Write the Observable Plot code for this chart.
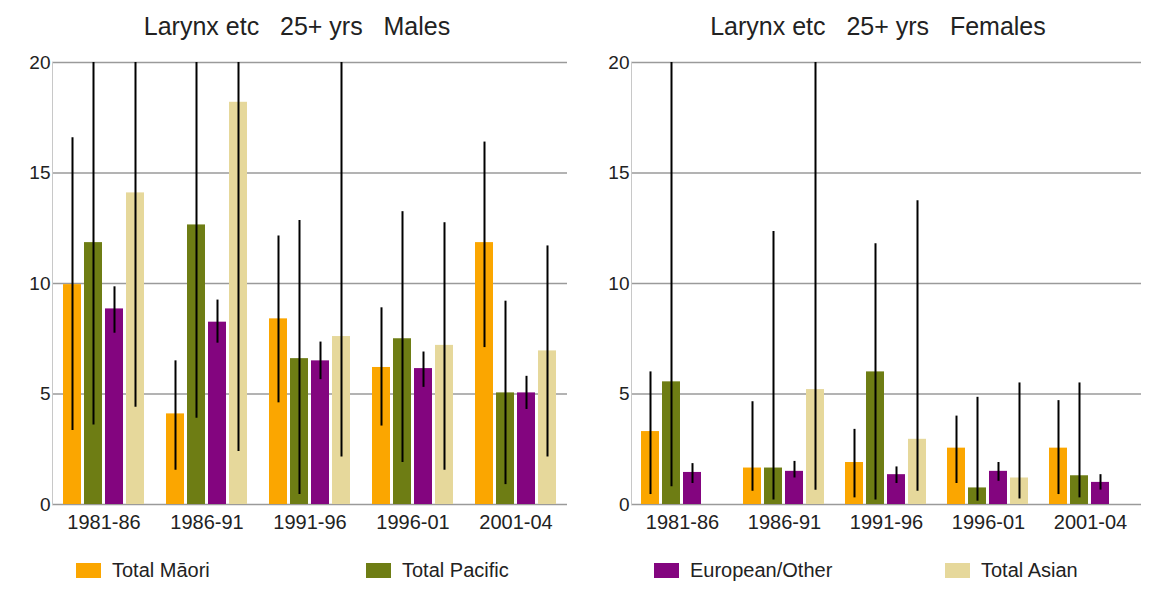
<!DOCTYPE html>
<html>
<head>
<meta charset="utf-8">
<script src="https://cdn.jsdelivr.net/npm/d3@7"></script>
<script src="https://cdn.jsdelivr.net/npm/@observablehq/plot@0.6"></script>
<style>
  body { margin: 0; background: #fff; font-family: "Liberation Sans", Arial, sans-serif; color: #222; }
  #wrap { position: relative; width: 1153px; height: 589px; overflow: hidden; background: #fff; }
  .title { position: absolute; top: 11px; width: 440px; text-align: center; font-size: 25px; line-height: 30px; white-space: pre; }
  .panel { position: absolute; top: 40px; }
  .item { position: absolute; top: 560px; height: 20px; display: flex; align-items: center; font-size: 20px; white-space: nowrap; }
  .sw { width: 25px; height: 15px; margin-right: 11px; }
</style>
</head>
<body>
<div id="wrap">
  <div class="title" style="left:77px">Larynx etc   25+ yrs   Males</div>
  <div class="title" style="left:658px">Larynx etc   25+ yrs   Females</div>
  <div class="panel" id="left" style="left:0px"></div>
  <div class="panel" id="right" style="left:576px"></div>
  <div id="legend"></div>
</div>
<script>
// ---- categories ----
const periods = ["1981-86", "1986-91", "1991-96", "1996-01", "2001-04"];
const groups = ["Total Māori", "Total Pacific", "European/Other", "Total Asian"];
const colors = ["#FBA600", "#6E7D14", "#83057F", "#E6D89B"];
const yTicks = [0, 5, 10, 15, 20];

// ---- Males: rates and confidence limits (upper limits above 20 run off the chart) ----
const maleMaori = [9.95, 4.1, 8.4, 6.2, 11.85];
const maleMaoriLow = [3.35, 1.55, 4.6, 3.55, 7.1];
const maleMaoriHigh = [16.6, 6.5, 12.15, 8.9, 16.4];
const malePacific = [11.85, 12.65, 6.6, 7.5, 5.05];
const malePacificLow = [3.6, 3.9, 0.45, 1.9, 0.9];
const malePacificHigh = [25, 25, 12.85, 13.25, 9.2];
const maleEuropean = [8.85, 8.25, 6.5, 6.15, 5.05];
const maleEuropeanLow = [7.75, 7.3, 5.65, 5.3, 4.3];
const maleEuropeanHigh = [9.85, 9.25, 7.35, 6.9, 5.8];
const maleAsian = [14.1, 18.2, 7.6, 7.2, 6.95];
const maleAsianLow = [4.4, 2.4, 2.15, 1.55, 2.15];
const maleAsianHigh = [25, 25, 25, 12.75, 11.7];

// ---- Females ----
const femaleMaori = [3.3, 1.65, 1.9, 2.55, 2.55];
const femaleMaoriLow = [0.45, 0.6, 0.3, 0.95, 0.45];
const femaleMaoriHigh = [6.0, 4.65, 3.4, 4.0, 4.7];
const femalePacific = [5.55, 1.65, 6.0, 0.75, 1.3];
const femalePacificLow = [0.8, 0.2, 0.2, 0.15, 0.3];
const femalePacificHigh = [25, 12.35, 11.8, 4.85, 5.5];
const femaleEuropean = [1.45, 1.5, 1.35, 1.5, 1.0];
const femaleEuropeanLow = [0.95, 1.2, 0.95, 1.05, 0.65];
const femaleEuropeanHigh = [1.85, 1.95, 1.7, 1.9, 1.35];
const femaleAsian = [null, 5.2, 2.95, 1.2, null];
const femaleAsianLow = [null, 0.65, 0.6, 0.25, null];
const femaleAsianHigh = [null, 25, 13.75, 5.5, null];

function rows(sets) {
  const out = [];
  sets.forEach(([g, r, lo, hi]) => periods.forEach((p, i) => {
    if (r[i] != null) out.push({period: p, group: g, rate: r[i], lo: lo[i], hi: hi[i]});
  }));
  return out;
}

const maleData = rows([
  [groups[0], maleMaori, maleMaoriLow, maleMaoriHigh],
  [groups[1], malePacific, malePacificLow, malePacificHigh],
  [groups[2], maleEuropean, maleEuropeanLow, maleEuropeanHigh],
  [groups[3], maleAsian, maleAsianLow, maleAsianHigh]
]);
const femaleData = rows([
  [groups[0], femaleMaori, femaleMaoriLow, femaleMaoriHigh],
  [groups[1], femalePacific, femalePacificLow, femalePacificHigh],
  [groups[2], femaleEuropean, femaleEuropeanLow, femaleEuropeanHigh],
  [groups[3], femaleAsian, femaleAsianLow, femaleAsianHigh]
]);

function chart(data, width, marginLeft, marginRight) {
  return Plot.plot({
    width, height: 505,
    marginTop: 22, marginBottom: 41, marginLeft, marginRight,
    style: {fontFamily: '"Liberation Sans", Arial, sans-serif', fontSize: "19px", color: "#222", background: "none", overflow: "visible"},
    fx: {domain: periods, padding: 0},
    x: {domain: groups, paddingInner: 3 / 22, paddingOuter: 0.41, axis: null},
    y: {domain: [0, 20]},
    color: {domain: groups, range: colors},
    marks: [
      Plot.ruleY(yTicks, {stroke: "#9a9a9a", strokeWidth: 1.5}),
      Plot.frame({anchor: "left", facetAnchor: "left", stroke: "#c8c8c8"}),
      Plot.barY(data, {fx: "period", x: "group", y: "rate", fill: "group"}),
      Plot.ruleX(data, {fx: "period", x: "group", y1: "lo", y2: "hi", stroke: "#000", strokeWidth: 2, clip: true}),
      Plot.axisY({ticks: yTicks, tickSize: 0, tickPadding: 2, fontSize: 19, label: null}),
      Plot.axisFx({anchor: "bottom", tickSize: 0, tickPadding: 10, fontSize: 20, label: null})
    ]
  });
}

document.getElementById("left").appendChild(chart(maleData, 580, 51, 13));
document.getElementById("right").appendChild(chart(femaleData, 577, 54, 11));

// legend
const legendX = [76, 366, 654, 945];
const legend = document.getElementById("legend");
groups.forEach((g, i) => {
  const item = document.createElement("div");
  item.className = "item";
  item.style.left = legendX[i] + "px";
  const sw = document.createElement("div");
  sw.className = "sw";
  sw.style.background = colors[i];
  const t = document.createElement("span");
  t.textContent = g;
  item.appendChild(sw);
  item.appendChild(t);
  legend.appendChild(item);
});
</script>
</body>
</html>
